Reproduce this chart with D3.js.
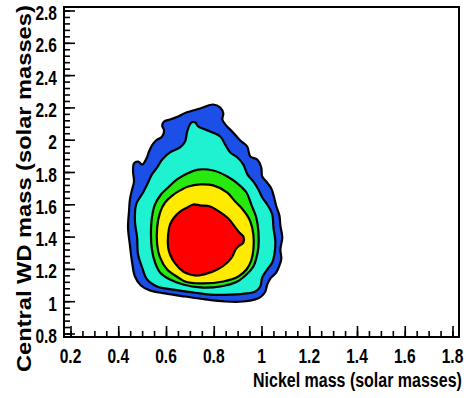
<!DOCTYPE html>
<html><head><meta charset="utf-8">
<script src="https://cdn.jsdelivr.net/npm/d3@7"></script>
<style>body{margin:0;background:#fff}svg{display:block}</style>
</head><body>
<svg id="c" width="466" height="398"></svg>
<script>
// ---- data ----
const xTickLabels = [0.2, 0.4, 0.6, 0.8, 1, 1.2, 1.4, 1.6, 1.8];
const yTickLabels = [0.8, 1, 1.2, 1.4, 1.6, 1.8, 2, 2.2, 2.4, 2.6, 2.8];
const xTitle = "Nickel mass (solar masses)";
const yTitle = "Central WD mass (solar masses)";
const levelNames = ["outer", "level2", "level3", "level4", "inner"];
const levelColors = ["#1c4ee8", "#1ff2d0", "#27e80f", "#ffeb00", "#ff0000"];

// contour boundaries: [Nickel mass, Central WD mass]
const contourOuter = [[0.685,2.168],[0.743,2.193],[0.798,2.218],[0.827,2.199],[0.840,2.162],[0.836,2.125],[0.852,2.088],[0.877,2.051],[0.911,1.995],[0.940,1.958],[0.953,1.896],[0.982,1.877],[0.999,1.828],[1.003,1.772],[1.020,1.741],[1.041,1.698],[1.054,1.636],[1.062,1.587],[1.075,1.531],[1.079,1.469],[1.087,1.394],[1.079,1.320],[1.083,1.264],[1.075,1.221],[1.062,1.178],[1.037,1.140],[1.024,1.103],[1.016,1.060],[0.999,1.029],[0.974,1.011],[0.924,0.998],[0.848,0.998],[0.764,1.011],[0.680,1.029],[0.596,1.048],[0.533,1.066],[0.495,1.097],[0.470,1.153],[0.458,1.240],[0.449,1.345],[0.441,1.456],[0.445,1.555],[0.449,1.630],[0.458,1.692],[0.466,1.741],[0.462,1.803],[0.466,1.853],[0.483,1.865],[0.500,1.846],[0.516,1.877],[0.529,1.927],[0.541,1.964],[0.558,1.995],[0.584,2.020],[0.592,2.057],[0.584,2.088],[0.592,2.113],[0.617,2.125],[0.651,2.144]];
const contourLevel2 = [[0.706,2.106],[0.723,2.106],[0.735,2.082],[0.764,2.063],[0.785,2.051],[0.827,2.020],[0.848,1.970],[0.869,1.921],[0.899,1.890],[0.924,1.846],[0.941,1.785],[0.966,1.741],[0.987,1.692],[1.003,1.642],[1.024,1.599],[1.045,1.537],[1.050,1.456],[1.058,1.370],[1.054,1.289],[1.045,1.240],[1.024,1.196],[1.003,1.147],[0.995,1.091],[0.974,1.060],[0.941,1.048],[0.869,1.041],[0.785,1.041],[0.714,1.054],[0.630,1.072],[0.563,1.091],[0.521,1.134],[0.500,1.209],[0.483,1.289],[0.479,1.394],[0.470,1.494],[0.475,1.599],[0.504,1.673],[0.525,1.735],[0.541,1.785],[0.563,1.828],[0.584,1.877],[0.617,1.921],[0.659,1.952],[0.680,1.989],[0.689,2.051]];
const contourLevel3 = [[0.735,1.815],[0.798,1.809],[0.857,1.772],[0.899,1.729],[0.937,1.673],[0.957,1.599],[0.978,1.518],[0.987,1.432],[0.987,1.333],[0.978,1.264],[0.966,1.215],[0.937,1.165],[0.899,1.122],[0.827,1.091],[0.743,1.085],[0.672,1.103],[0.617,1.134],[0.575,1.178],[0.554,1.240],[0.541,1.320],[0.537,1.413],[0.541,1.518],[0.554,1.599],[0.579,1.661],[0.609,1.704],[0.646,1.754],[0.689,1.791]];
const contourLevel4 = [[0.743,1.723],[0.798,1.717],[0.857,1.673],[0.886,1.624],[0.911,1.586],[0.937,1.537],[0.953,1.494],[0.966,1.413],[0.966,1.320],[0.957,1.252],[0.937,1.196],[0.903,1.153],[0.840,1.122],[0.743,1.110],[0.680,1.122],[0.651,1.147],[0.605,1.196],[0.575,1.271],[0.563,1.351],[0.563,1.456],[0.575,1.549],[0.596,1.611],[0.626,1.654],[0.659,1.686],[0.693,1.710]];
const contourInner = [[0.714,1.599],[0.743,1.593],[0.785,1.586],[0.815,1.562],[0.861,1.512],[0.891,1.456],[0.907,1.425],[0.924,1.401],[0.924,1.364],[0.903,1.339],[0.891,1.320],[0.878,1.277],[0.857,1.240],[0.815,1.196],[0.773,1.172],[0.731,1.159],[0.701,1.165],[0.672,1.184],[0.638,1.234],[0.617,1.289],[0.609,1.333],[0.609,1.413],[0.617,1.475],[0.634,1.518],[0.659,1.555],[0.689,1.580]];
const contours = [contourOuter, contourLevel2, contourLevel3, contourLevel4, contourInner];

// ---- layout ----
const svg = d3.select("#c");
const L = 64, R = 459, T = 7, B = 337;
const x = d3.scaleLinear().domain([0.1728, 1.8272]).range([L, R]);
const y = d3.scaleLinear().domain([0.7783, 2.8217]).range([B, T]);
const FONT = "'Liberation Sans', Arial, Helvetica, sans-serif";

// contours
const line = d3.line().x(d => x(d[0])).y(d => y(d[1])).curve(d3.curveCatmullRomClosed.alpha(0.5));
svg.append("g").selectAll("path").data(contours).join("path")
  .attr("d", line)
  .attr("fill", (d, i) => levelColors[i])
  .attr("stroke", "#000").attr("stroke-width", 2.2).attr("stroke-linejoin", "round")
  .attr("class", (d, i) => levelNames[i]);

// ticks (inside)
const xMinor = d3.range(0, 33).map(i => +(0.2 + i * 0.05).toFixed(2));
const yMinor = d3.range(0, 51).map(i => +(0.8 + i * 0.04).toFixed(2));
function styleAxis(g) {
  g.select(".domain").remove();
  g.selectAll("line").attr("stroke", "#000").attr("stroke-width", 1.6);
}
svg.append("g").attr("transform", `translate(0,${B})`)
  .call(d3.axisBottom(x).tickValues(xMinor).tickSize(-6).tickFormat("")).call(styleAxis);
svg.append("g").attr("transform", `translate(0,${B})`)
  .call(d3.axisBottom(x).tickValues(xTickLabels).tickSize(-11).tickFormat("")).call(styleAxis);
svg.append("g").attr("transform", `translate(${L},0)`)
  .call(d3.axisLeft(y).tickValues(yMinor).tickSize(-6).tickFormat("")).call(styleAxis);
svg.append("g").attr("transform", `translate(${L},0)`)
  .call(d3.axisLeft(y).tickValues(yTickLabels).tickSize(-11).tickFormat("")).call(styleAxis);

// frame
svg.append("rect").attr("x", L).attr("y", T).attr("width", R - L).attr("height", B - T)
  .attr("fill", "none").attr("stroke", "#000").attr("stroke-width", 2);

// tick labels
const SX = 0.74;
svg.append("g").selectAll("text").data(xTickLabels).join("text")
  .attr("transform", d => `translate(${x(d)},363) scale(${SX},1)`)
  .attr("text-anchor", "middle")
  .style("font-family", FONT).style("font-weight", "bold").style("font-size", "21px")
  .text(d => d3.format("")(d));
svg.append("g").selectAll("text").data(yTickLabels).join("text")
  .attr("transform", d => `translate(57,${y(d) + 9.5}) scale(${SX},1)`)
  .attr("text-anchor", "end")
  .style("font-family", FONT).style("font-weight", "bold").style("font-size", "21px")
  .text(d => d3.format("")(d));

// titles (scaled along their reading direction to match the reference's lengths)
const xt = svg.append("text")
  .style("font-family", FONT).style("font-weight", "bold").style("font-size", "21px")
  .text(xTitle);
const xLen = xt.node().getComputedTextLength();
xt.attr("transform", `translate(253,387) scale(${209 / xLen},1)`);

const yt = svg.append("text")
  .style("font-family", FONT).style("font-weight", "bold").style("font-size", "21px")
  .text(yTitle);
const yLen = yt.node().getComputedTextLength();
yt.attr("transform", `translate(31,372) rotate(-90) scale(${367 / yLen},1)`);
</script>
</body></html>
